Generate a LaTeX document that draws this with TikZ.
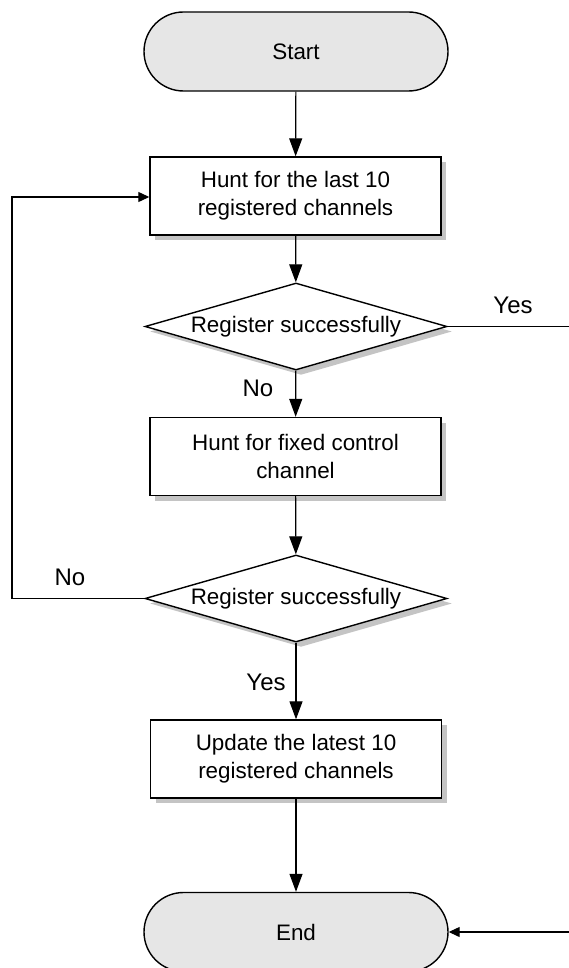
\documentclass[tikz,border=0pt]{standalone}
\usepackage{fontspec}
\setmainfont{Liberation Sans}
\usetikzlibrary{shapes.misc,shapes.geometric,arrows.meta,shadows}
\definecolor{termfill}{HTML}{E6E6E6}
\definecolor{shadowgray}{HTML}{C4C4C4}
\tikzset{
  every node/.style={font=\fontsize{22.4}{28}\selectfont},
  term/.style={rounded rectangle, draw, line width=1.4pt, fill=termfill,
    minimum width=304pt, minimum height=79pt, inner sep=0pt},
  procbox/.style={rectangle, draw, line width=1.4pt, fill=white,
    minimum width=291pt, minimum height=78pt, align=center, inner sep=0pt,
    drop shadow={shadow xshift=5pt, shadow yshift=-5pt, fill=shadowgray, opacity=1}},
  decision/.style={diamond, draw, line width=1.4pt, fill=white,
    minimum width=302pt, minimum height=87pt, inner sep=0pt, aspect=3.5,
    drop shadow={shadow xshift=5pt, shadow yshift=-5pt, fill=shadowgray, opacity=1}},
  lbl/.style={font=\fontsize{24}{28}\selectfont, inner sep=0pt},
  conn/.style={line width=1.2pt, -{Triangle[length=18pt,width=13pt]}},
  connsmall/.style={line width=1.2pt, -{Triangle[length=11pt,width=10pt]}},
  plainline/.style={line width=1.2pt},
}
\begin{document}
\begin{tikzpicture}[x=1pt,y=-1pt]
\useasboundingbox (0,0) rectangle (568,968);
\node[term] (start) at (296,51.5) {Start};
\node[procbox] (hunt1) at (295.5,196) {Hunt for the last 10\\registered channels};
\node[decision] (dec1) at (296,326.5) {Register successfully};
\node[procbox] (hunt2) at (295.5,456.5) {Hunt for fixed control\\channel};
\node[decision] (dec2) at (296,598.5) {Register successfully};
\node[procbox] (upd) at (296,759) {Update the latest 10\\registered channels};
\node[term] (end) at (296,932) {End};

\coordinate (leftc) at (12,598.5);
\coordinate (leftt) at (12,197);
\coordinate (rtop) at (569,326.5);
\coordinate (rbot) at (569,932);

\draw[conn] (start) -- (hunt1);
\draw[conn] (hunt1) -- (dec1);
\draw[conn] (dec1) -- (hunt2);
\draw[conn] (hunt2) -- (dec2);
\draw[conn] (dec2) -- (upd);
\draw[conn] (upd) -- (end);
\draw[connsmall] (dec2.west) -- (leftc) -- (leftt) -- (hunt1.west |- leftt);
\draw[plainline] (dec1.east) -- (rtop);
\draw[connsmall] (rbot) -- (end.east);

\node[lbl] (yes1) at (513,305) {Yes};
\node[lbl] (no1) at (258,388) {No};
\node[lbl] (no2) at (70,577) {No};
\node[lbl] (yes2) at (266,682) {Yes};
\end{tikzpicture}
\end{document}
